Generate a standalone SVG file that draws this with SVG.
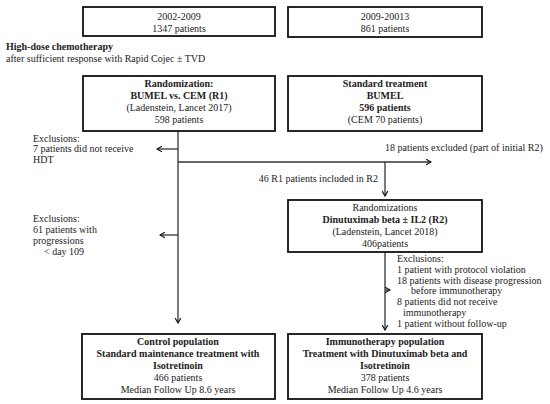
<svg xmlns="http://www.w3.org/2000/svg" width="550" height="404" viewBox="0 0 550 404">
<defs>
<style>
text{font-family:"Liberation Serif","Times New Roman",serif;font-size:10px;fill:#222}
.c{text-anchor:middle}
.b{font-weight:bold}
.box{fill:#fff;stroke:#111;stroke-width:1.8}
.ln{fill:none;stroke:#333;stroke-width:1.3}
</style>
<marker id="ah" viewBox="0 0 10 10" refX="9" refY="5" markerWidth="7" markerHeight="7" orient="auto" markerUnits="userSpaceOnUse">
<path d="M2,1 L9,5 L2,9" fill="none" stroke="#111" stroke-width="1.6"/>
</marker>
</defs>
<rect width="550" height="404" fill="#fff"/>
<g id="connectors">
<line class="ln" x1="178" y1="131" x2="178" y2="323" marker-end="url(#ah)"/>
<line class="ln" x1="178" y1="149" x2="157" y2="149" marker-end="url(#ah)"/>
<line class="ln" x1="178" y1="235" x2="160" y2="235" marker-end="url(#ah)"/>
<line class="ln" x1="178" y1="162" x2="431" y2="162" marker-end="url(#ah)"/>
<line class="ln" x1="385" y1="162" x2="385" y2="196" marker-end="url(#ah)"/>
<line class="ln" x1="385" y1="238" x2="385" y2="330" marker-end="url(#ah)"/>
<line class="ln" x1="385" y1="290" x2="390" y2="290" marker-end="url(#ah)"/>
</g>
<g id="period1">
<rect class="box" x="83" y="7" width="192" height="29"/>
<text class="c" x="179" y="20">2002-2009</text>
<text class="c" x="179" y="32">1347 patients</text>
</g>
<g id="period2">
<rect class="box" x="288" y="7" width="194" height="30"/>
<text class="c" x="385" y="20">2009-20013</text>
<text class="c" x="385" y="32">861 patients</text>
</g>
<g id="heading">
<text class="b" x="6" y="50">High-dose chemotherapy</text>
<text x="6" y="62">after sufficient response with Rapid Cojec ± TVD</text>
</g>
<g id="r1">
<rect class="box" x="83" y="76" width="192" height="55"/>
<text class="c b" x="179" y="87">Randomization:</text>
<text class="c b" x="179" y="99">BUMEL vs. CEM (R1)</text>
<text class="c" x="179" y="111">(Ladenstein, Lancet 2017)</text>
<text class="c" x="179" y="123">598 patients</text>
</g>
<g id="standard">
<rect class="box" x="288" y="76" width="194" height="55"/>
<text class="c b" x="385" y="87">Standard treatment</text>
<text class="c b" x="385" y="99">BUMEL</text>
<text class="c b" x="385" y="111">596 patients</text>
<text class="c" x="385" y="123">(CEM 70 patients)</text>
</g>
<g id="excl1">
<text x="33" y="142">Exclusions:</text>
<text x="33" y="152">7 patients did not receive</text>
<text x="33" y="163">HDT</text>
</g>
<g id="excl18">
<text x="385" y="151">18 patients excluded (part of initial R2)</text>
</g>
<g id="incl46">
<text x="378" y="182" text-anchor="end">46 R1 patients included in R2</text>
</g>
<g id="excl2">
<text x="33" y="222">Exclusions:</text>
<text x="33" y="233">61 patients with</text>
<text x="33" y="244">progressions</text>
<text x="44" y="255">&lt; day 109</text>
</g>
<g id="r2">
<rect class="box" x="288" y="200" width="194" height="52"/>
<text class="c" x="385" y="211">Randomizations</text>
<text class="c b" x="385" y="223">Dinutuximab beta ± IL2 (R2)</text>
<text class="c" x="385" y="235">(Ladenstein, Lancet 2018)</text>
<text class="c" x="385" y="247">406patients</text>
</g>
<g id="excl3">
<text x="397" y="262">Exclusions:</text>
<text x="397" y="273">1 patient with protocol violation</text>
<text x="397" y="284">18  patients with disease progression</text>
<text x="411" y="294">before immunotherapy</text>
<text x="397" y="305">8 patients did not receive</text>
<text x="403" y="316">immunotherapy</text>
<text x="397" y="327">1 patient without follow-up</text>
</g>
<g id="control">
<rect class="box" x="82" y="334" width="193" height="65"/>
<text class="c b" x="178" y="345">Control population</text>
<text class="c b" x="178" y="357">Standard maintenance treatment with</text>
<text class="c b" x="178" y="369">Isotretinoin</text>
<text class="c" x="178" y="381">466 patients</text>
<text class="c" x="178" y="393">Median Follow Up 8.6 years</text>
</g>
<g id="immuno">
<rect class="box" x="288" y="334" width="194" height="65"/>
<text class="c b" x="385" y="345">Immunotherapy population</text>
<text class="c b" x="385" y="357">Treatment with Dinutuximab beta and</text>
<text class="c b" x="385" y="369">Isotretinoin</text>
<text class="c" x="385" y="381">378 patients</text>
<text class="c" x="385" y="393">Median Follow Up 4.6 years</text>
</g>
</svg>
